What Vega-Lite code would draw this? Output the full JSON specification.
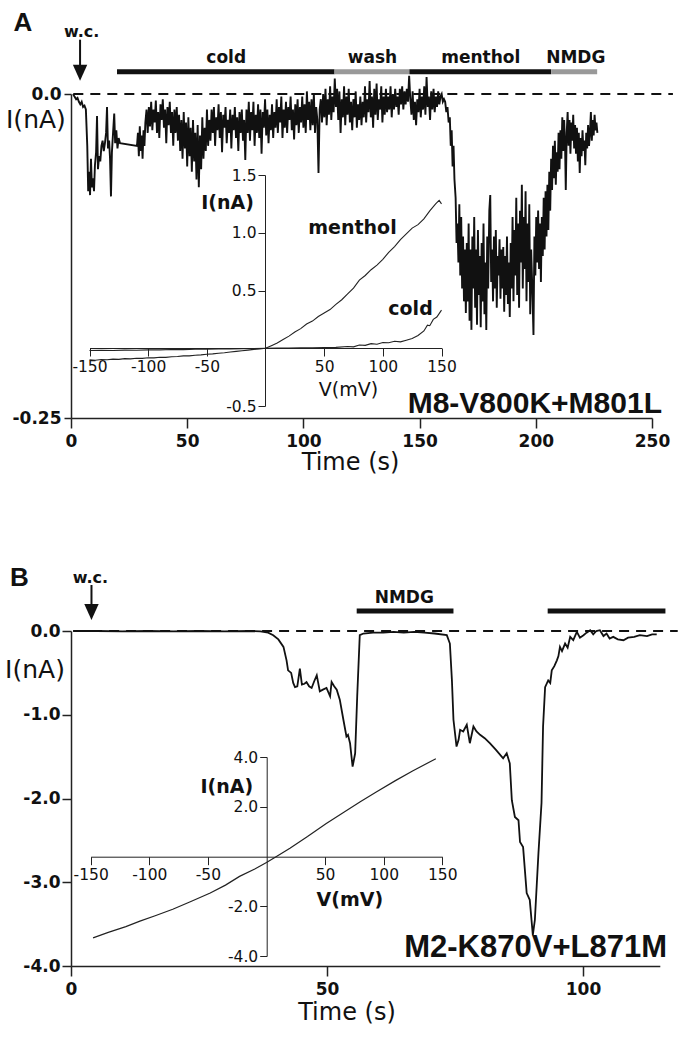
{
"$schema": "https://vega.github.io/schema/vega-lite/v6.json",
"width": 678, "height": 1039, "autosize": {"type": "none"}, "padding": 0,
"background": "white",
"config": {"view": {"stroke": null}, "axis": {"grid": false, "domainColor": "#222", "tickColor": "#222", "labelColor": "#111", "labelFont": "DejaVu Sans", "labelOverlap": false, "labelFlush": false}},
"datasets": {
"traceA": [
{"t":0.9,"i":0.000},{"t":1.5,"i":-0.002},{"t":2.2,"i":-0.004},{"t":2.8,"i":-0.003},{"t":3.4,"i":-0.006},{"t":4.0,"i":-0.008},{"t":4.6,"i":-0.006},{"t":5.2,"i":-0.010},{"t":5.8,"i":-0.009},{"t":6.4,"i":-0.012},
{"t":7.0,"i":-0.040},{"t":7.4,"i":-0.075},{"t":7.8,"i":-0.060},{"t":8.2,"i":-0.078},{"t":8.6,"i":-0.050},{"t":9.0,"i":-0.072},{"t":9.4,"i":-0.065},{"t":9.9,"i":-0.075},{"t":10.3,"i":-0.055},{"t":10.8,"i":-0.045},{"t":11.2,"i":-0.017},{"t":11.6,"i":-0.058},{"t":12.1,"i":-0.048},{"t":12.6,"i":-0.052},
{"t":13.1,"i":-0.040},{"t":13.6,"i":-0.036},{"t":14.1,"i":-0.044},{"t":14.6,"i":-0.038},{"t":15.1,"i":-0.030},{"t":15.5,"i":-0.010},{"t":15.9,"i":-0.042},{"t":16.4,"i":-0.036},{"t":16.8,"i":-0.050},{"t":17.2,"i":-0.079},{"t":17.6,"i":-0.045},{"t":18.1,"i":-0.030},
{"t":18.6,"i":-0.015},{"t":19.0,"i":-0.038},{"t":19.5,"i":-0.028},{"t":20.0,"i":-0.042},{"t":20.5,"i":-0.034},{"t":21.1,"i":-0.038},
{"t":28.4,"i":-0.040},
{"t":28.8,"i":-0.030},{"t":29.2,"i":-0.048},{"t":29.6,"i":-0.025},{"t":30.0,"i":-0.044},{"t":30.4,"i":-0.032},{"t":30.8,"i":-0.050},{"t":31.2,"i":-0.028},{"t":31.6,"i":-0.040},{"t":32.0,"i":-0.022},
{"t":32.5,"i":-0.012},{"t":33.0,"i":-0.030},{"t":33.5,"i":-0.010},{"t":34.0,"i":-0.025},{"t":34.5,"i":-0.006},{"t":35.0,"i":-0.028},{"t":35.5,"i":-0.012},{"t":36.0,"i":-0.022},{"t":36.5,"i":-0.005},{"t":37.0,"i":-0.030},{"t":37.5,"i":-0.014},{"t":38.0,"i":-0.034},{"t":38.5,"i":-0.008},{"t":39.0,"i":-0.020},{"t":39.5,"i":-0.004},{"t":40.0,"i":-0.026},{"t":40.5,"i":-0.012},{"t":41.0,"i":-0.038},{"t":41.5,"i":-0.010},{"t":42.0,"i":-0.024},{"t":42.5,"i":-0.006},{"t":43.0,"i":-0.030},{"t":43.5,"i":-0.014},{"t":44.0,"i":-0.040},{"t":44.5,"i":-0.012},
{"t":45.0,"i":-0.030},{"t":45.5,"i":-0.010},{"t":46.0,"i":-0.036},{"t":46.5,"i":-0.016},{"t":47.0,"i":-0.044},{"t":47.5,"i":-0.020},{"t":48.0,"i":-0.050},{"t":48.5,"i":-0.014},{"t":49.0,"i":-0.042},{"t":49.5,"i":-0.022},{"t":50.0,"i":-0.056},{"t":50.5,"i":-0.018},{"t":51.0,"i":-0.048},{"t":51.5,"i":-0.026},{"t":52.0,"i":-0.060},{"t":52.5,"i":-0.020},{"t":53.0,"i":-0.052},{"t":53.5,"i":-0.030},{"t":54.0,"i":-0.066},{"t":54.5,"i":-0.024},{"t":55.0,"i":-0.072},{"t":55.5,"i":-0.032},{"t":56.0,"i":-0.058},{"t":56.5,"i":-0.018},{"t":57.0,"i":-0.050},{"t":57.5,"i":-0.026},{"t":58.0,"i":-0.044},{"t":58.5,"i":-0.012},{"t":59.0,"i":-0.040},{"t":59.5,"i":-0.020},
{"t":60.0,"i":-0.036},{"t":60.5,"i":-0.012},{"t":61.0,"i":-0.030},{"t":61.5,"i":-0.010},{"t":62.0,"i":-0.040},{"t":62.5,"i":-0.018},{"t":63.0,"i":-0.028},{"t":63.5,"i":-0.008},{"t":64.0,"i":-0.034},{"t":64.5,"i":-0.014},{"t":65.0,"i":-0.045},{"t":65.5,"i":-0.016},{"t":66.0,"i":-0.026},{"t":66.5,"i":-0.010},{"t":67.0,"i":-0.038},{"t":67.5,"i":-0.020},{"t":68.0,"i":-0.030},{"t":68.5,"i":-0.012},{"t":69.0,"i":-0.042},{"t":69.5,"i":-0.016},{"t":70.0,"i":-0.028},{"t":70.5,"i":-0.010},{"t":71.0,"i":-0.034},{"t":71.5,"i":-0.018},{"t":72.0,"i":-0.044},{"t":72.5,"i":-0.014},{"t":73.0,"i":-0.030},{"t":73.5,"i":-0.012},{"t":74.0,"i":-0.036},{"t":74.5,"i":-0.020},
{"t":75.0,"i":-0.051},{"t":75.5,"i":-0.012},{"t":76.0,"i":-0.030},{"t":76.5,"i":-0.006},{"t":77.0,"i":-0.036},{"t":77.5,"i":-0.014},{"t":78.0,"i":-0.028},{"t":78.5,"i":-0.006},{"t":79.0,"i":-0.040},{"t":79.5,"i":-0.016},{"t":80.0,"i":-0.030},{"t":80.5,"i":-0.008},{"t":81.0,"i":-0.034},{"t":81.5,"i":-0.012},{"t":82.0,"i":-0.046},{"t":82.5,"i":-0.014},{"t":83.0,"i":-0.026},{"t":83.5,"i":-0.004},{"t":84.0,"i":-0.032},{"t":84.5,"i":-0.012},{"t":85.0,"i":-0.038},{"t":85.5,"i":-0.016},{"t":86.0,"i":-0.028},{"t":86.5,"i":-0.008},{"t":87.0,"i":-0.034},{"t":87.5,"i":-0.014},
{"t":88.0,"i":-0.026},{"t":88.5,"i":-0.004},{"t":89.0,"i":-0.030},{"t":89.5,"i":-0.010},{"t":90.0,"i":-0.022},{"t":90.5,"i":-0.002},{"t":91.0,"i":-0.034},{"t":91.5,"i":-0.012},{"t":92.0,"i":-0.026},{"t":92.5,"i":-0.006},{"t":93.0,"i":-0.030},{"t":93.5,"i":-0.010},{"t":94.0,"i":-0.020},{"t":94.5,"i":-0.002},{"t":95.0,"i":-0.028},{"t":95.5,"i":-0.012},{"t":96.0,"i":-0.035},{"t":96.5,"i":-0.008},{"t":97.0,"i":-0.024},{"t":97.5,"i":-0.004},{"t":98.0,"i":-0.030},{"t":98.5,"i":-0.010},
{"t":99.0,"i":-0.022},{"t":99.5,"i":-0.002},{"t":100.0,"i":-0.026},{"t":100.5,"i":-0.008},{"t":101.0,"i":-0.030},{"t":101.5,"i":0.002},{"t":102.0,"i":-0.020},{"t":102.5,"i":-0.006},{"t":103.0,"i":-0.028},{"t":103.5,"i":-0.004},{"t":104.0,"i":-0.024},{"t":104.5,"i":0.000},{"t":105.0,"i":-0.030},{"t":105.5,"i":-0.010},{"t":106.0,"i":-0.020},{"t":106.5,"i":-0.061},{"t":107.0,"i":-0.012},
{"t":107.5,"i":-0.004},{"t":108.0,"i":-0.022},{"t":108.5,"i":0.000},{"t":109.0,"i":-0.018},{"t":109.5,"i":0.004},{"t":110.0,"i":-0.024},{"t":110.5,"i":-0.004},{"t":111.0,"i":-0.016},{"t":111.5,"i":0.006},{"t":112.0,"i":-0.020},{"t":112.5,"i":-0.002},{"t":113.0,"i":-0.014},{"t":113.5,"i":0.012},{"t":114.0,"i":-0.010},
{"t":114.5,"i":0.004},{"t":115.0,"i":-0.020},{"t":115.5,"i":0.002},{"t":116.0,"i":-0.030},{"t":116.5,"i":-0.004},{"t":117.0,"i":-0.018},{"t":117.5,"i":0.006},{"t":118.0,"i":-0.024},{"t":118.5,"i":-0.002},{"t":119.0,"i":-0.016},{"t":119.5,"i":0.004},{"t":120.0,"i":-0.022},{"t":120.5,"i":-0.006},{"t":121.0,"i":-0.028},{"t":121.5,"i":-0.004},{"t":122.0,"i":-0.018},{"t":122.5,"i":0.002},{"t":123.0,"i":-0.026},{"t":123.5,"i":-0.008},{"t":124.0,"i":-0.020},{"t":124.5,"i":-0.002},{"t":125.0,"i":-0.024},{"t":125.5,"i":-0.006},{"t":126.0,"i":-0.018},{"t":126.5,"i":0.006},{"t":127.0,"i":-0.022},{"t":127.5,"i":-0.004},{"t":128.0,"i":-0.014},{"t":128.5,"i":0.010},{"t":129.0,"i":-0.018},{"t":129.5,"i":-0.002},{"t":130.0,"i":-0.026},{"t":130.5,"i":0.004},{"t":131.0,"i":-0.016},{"t":131.5,"i":0.008},{"t":132.0,"i":-0.020},{"t":132.5,"i":-0.004},{"t":133.0,"i":-0.012},{"t":133.5,"i":0.006},{"t":134.0,"i":-0.022},{"t":134.5,"i":-0.002},{"t":135.0,"i":-0.016},{"t":135.5,"i":0.004},{"t":136.0,"i":-0.014},{"t":136.5,"i":-0.002},{"t":137.0,"i":-0.012},{"t":137.5,"i":0.006},{"t":138.0,"i":-0.018},{"t":138.5,"i":0.000},{"t":139.0,"i":-0.012},{"t":139.5,"i":0.004},{"t":140.0,"i":-0.010},{"t":140.5,"i":-0.002},{"t":141.0,"i":-0.016},{"t":141.5,"i":0.004},{"t":142.0,"i":-0.008},{"t":142.5,"i":0.006},{"t":143.0,"i":-0.012},{"t":143.5,"i":0.002},{"t":144.0,"i":-0.008},{"t":144.5,"i":0.004},{"t":145.0,"i":-0.006},{"t":145.5,"i":0.014},
{"t":146.0,"i":-0.004},{"t":146.5,"i":-0.016},{"t":147.0,"i":0.002},{"t":147.5,"i":-0.020},{"t":148.0,"i":-0.006},{"t":148.5,"i":-0.024},{"t":149.0,"i":-0.004},{"t":149.5,"i":-0.014},{"t":150.0,"i":0.004},{"t":150.5,"i":-0.018},{"t":151.0,"i":-0.002},{"t":151.5,"i":-0.012},{"t":152.0,"i":0.006},{"t":152.5,"i":-0.016},{"t":153.0,"i":0.013},{"t":153.5,"i":-0.010},{"t":154.0,"i":-0.002},{"t":154.5,"i":-0.020},{"t":155.0,"i":0.002},{"t":155.5,"i":-0.012},{"t":156.0,"i":0.004},{"t":156.5,"i":-0.014},{"t":157.0,"i":-0.002},{"t":157.5,"i":-0.010},{"t":158.0,"i":0.002},{"t":158.5,"i":-0.008},{"t":159.0,"i":-0.002},{"t":159.5,"i":0.000},{"t":160.0,"i":-0.006},{"t":160.5,"i":-0.004},
{"t":161.0,"i":-0.006},{"t":161.5,"i":-0.014},{"t":162.0,"i":-0.010},{"t":162.5,"i":-0.022},{"t":163.0,"i":-0.018},{"t":163.4,"i":-0.040},{"t":163.8,"i":-0.028},{"t":164.2,"i":-0.056},{"t":164.6,"i":-0.040},{"t":165.0,"i":-0.066},{"t":165.5,"i":-0.080},{"t":165.9,"i":-0.115},{"t":166.3,"i":-0.100},{"t":166.7,"i":-0.130},
{"t":167.1,"i":-0.085},{"t":167.5,"i":-0.140},{"t":167.9,"i":-0.095},{"t":168.3,"i":-0.150},{"t":168.7,"i":-0.110},{"t":169.1,"i":-0.160},{"t":169.5,"i":-0.120},{"t":169.9,"i":-0.169},{"t":170.3,"i":-0.115},
{"t":170.7,"i":-0.160},{"t":171.1,"i":-0.100},{"t":171.5,"i":-0.175},{"t":171.9,"i":-0.120},{"t":172.3,"i":-0.182},{"t":172.7,"i":-0.110},{"t":173.1,"i":-0.150},{"t":173.5,"i":-0.095},{"t":173.9,"i":-0.165},{"t":174.3,"i":-0.120},{"t":174.7,"i":-0.178},{"t":175.1,"i":-0.105},{"t":175.5,"i":-0.155},{"t":175.9,"i":-0.125},{"t":176.3,"i":-0.180},{"t":176.7,"i":-0.115},{"t":177.1,"i":-0.160},{"t":177.5,"i":-0.100},{"t":177.9,"i":-0.170},{"t":178.3,"i":-0.130},{"t":178.7,"i":-0.182},{"t":179.1,"i":-0.110},{"t":179.5,"i":-0.150},{"t":180.0,"i":-0.090},{"t":180.4,"i":-0.078},{"t":180.8,"i":-0.145},
{"t":181.2,"i":-0.120},{"t":181.6,"i":-0.160},{"t":182.0,"i":-0.110},{"t":182.4,"i":-0.150},{"t":182.8,"i":-0.105},{"t":183.2,"i":-0.165},{"t":183.6,"i":-0.125},{"t":184.0,"i":-0.140},{"t":184.4,"i":-0.112},{"t":184.8,"i":-0.158},{"t":185.2,"i":-0.120},{"t":185.6,"i":-0.150},{"t":186.0,"i":-0.118},{"t":186.4,"i":-0.168},{"t":186.8,"i":-0.125},{"t":187.2,"i":-0.155},{"t":187.6,"i":-0.110},{"t":188.0,"i":-0.162},{"t":188.4,"i":-0.130},{"t":188.8,"i":-0.172},
{"t":189.2,"i":-0.115},{"t":189.6,"i":-0.150},{"t":190.0,"i":-0.095},{"t":190.4,"i":-0.160},{"t":190.8,"i":-0.105},{"t":191.2,"i":-0.140},{"t":191.6,"i":-0.080},{"t":192.0,"i":-0.155},{"t":192.4,"i":-0.100},{"t":192.8,"i":-0.165},{"t":193.2,"i":-0.090},{"t":193.6,"i":-0.130},{"t":194.0,"i":-0.070},{"t":194.4,"i":-0.150},{"t":194.8,"i":-0.095},{"t":195.2,"i":-0.135},{"t":195.6,"i":-0.075},{"t":196.0,"i":-0.160},{"t":196.4,"i":-0.100},{"t":196.8,"i":-0.145},{"t":197.2,"i":-0.085},{"t":197.6,"i":-0.170},
{"t":198.0,"i":-0.120},{"t":198.5,"i":-0.150},{"t":199.0,"i":-0.186},{"t":199.4,"i":-0.110},{"t":199.8,"i":-0.140},{"t":200.2,"i":-0.095},{"t":200.6,"i":-0.130},{"t":201.0,"i":-0.090},{"t":201.4,"i":-0.135},{"t":201.8,"i":-0.100},{"t":202.2,"i":-0.145},{"t":202.6,"i":-0.095},{"t":203.0,"i":-0.125},{"t":203.4,"i":-0.080},{"t":203.8,"i":-0.120},{"t":204.2,"i":-0.075},{"t":204.6,"i":-0.110},{"t":205.0,"i":-0.070},{"t":205.4,"i":-0.105},{"t":205.8,"i":-0.060},{"t":206.2,"i":-0.090},
{"t":206.6,"i":-0.050},{"t":207.0,"i":-0.074},{"t":207.4,"i":-0.040},{"t":207.8,"i":-0.065},{"t":208.2,"i":-0.036},{"t":208.6,"i":-0.070},{"t":209.0,"i":-0.045},{"t":209.4,"i":-0.060},{"t":209.8,"i":-0.030},{"t":210.2,"i":-0.058},{"t":210.6,"i":-0.028},
{"t":211.0,"i":-0.050},{"t":211.4,"i":-0.018},{"t":211.8,"i":-0.044},{"t":212.2,"i":-0.020},{"t":212.6,"i":-0.040},{"t":212.9,"i":-0.074},{"t":213.3,"i":-0.030},{"t":213.7,"i":-0.014},{"t":214.1,"i":-0.040},{"t":214.5,"i":-0.020},{"t":214.9,"i":-0.046},{"t":215.3,"i":-0.022},{"t":215.7,"i":-0.036},{"t":216.1,"i":-0.016},{"t":216.5,"i":-0.042},{"t":216.9,"i":-0.024},
{"t":217.3,"i":-0.046},{"t":217.7,"i":-0.026},{"t":218.1,"i":-0.052},{"t":218.5,"i":-0.030},{"t":218.9,"i":-0.061},{"t":219.3,"i":-0.034},{"t":219.7,"i":-0.048},{"t":220.1,"i":-0.028},{"t":220.5,"i":-0.044},{"t":220.9,"i":-0.036},{"t":221.3,"i":-0.055},{"t":221.7,"i":-0.030},{"t":222.1,"i":-0.042},{"t":222.5,"i":-0.024},{"t":222.9,"i":-0.040},
{"t":223.3,"i":-0.030},{"t":223.7,"i":-0.014},{"t":224.1,"i":-0.036},{"t":224.5,"i":-0.020},{"t":224.9,"i":-0.032},{"t":225.3,"i":-0.016},{"t":225.7,"i":-0.028},{"t":226.1,"i":-0.022},{"t":226.5,"i":-0.030}
],
"ivA": [
{"s":"menthol","v":-150,"i":-0.100},{"s":"menthol","v":-145,"i":-0.104},{"s":"menthol","v":-140,"i":-0.097},{"s":"menthol","v":-135,"i":-0.099},{"s":"menthol","v":-130,"i":-0.094},{"s":"menthol","v":-125,"i":-0.096},{"s":"menthol","v":-120,"i":-0.090},{"s":"menthol","v":-115,"i":-0.092},{"s":"menthol","v":-110,"i":-0.086},{"s":"menthol","v":-105,"i":-0.088},{"s":"menthol","v":-100,"i":-0.082},{"s":"menthol","v":-95,"i":-0.083},{"s":"menthol","v":-90,"i":-0.078},{"s":"menthol","v":-85,"i":-0.079},{"s":"menthol","v":-80,"i":-0.073},{"s":"menthol","v":-75,"i":-0.072},{"s":"menthol","v":-70,"i":-0.066},{"s":"menthol","v":-65,"i":-0.066},{"s":"menthol","v":-60,"i":-0.060},{"s":"menthol","v":-55,"i":-0.057},{"s":"menthol","v":-50,"i":-0.052},{"s":"menthol","v":-45,"i":-0.049},{"s":"menthol","v":-40,"i":-0.043},{"s":"menthol","v":-35,"i":-0.039},{"s":"menthol","v":-30,"i":-0.033},{"s":"menthol","v":-25,"i":-0.027},{"s":"menthol","v":-20,"i":-0.022},{"s":"menthol","v":-15,"i":-0.016},{"s":"menthol","v":-10,"i":-0.010},{"s":"menthol","v":-5,"i":-0.005},{"s":"menthol","v":0,"i":0.000},{"s":"menthol","v":5,"i":0.022},{"s":"menthol","v":10,"i":0.045},{"s":"menthol","v":15,"i":0.075},{"s":"menthol","v":20,"i":0.105},{"s":"menthol","v":25,"i":0.140},{"s":"menthol","v":30,"i":0.170},{"s":"menthol","v":35,"i":0.210},{"s":"menthol","v":40,"i":0.235},{"s":"menthol","v":45,"i":0.275},{"s":"menthol","v":50,"i":0.305},{"s":"menthol","v":55,"i":0.335},{"s":"menthol","v":60,"i":0.380},{"s":"menthol","v":65,"i":0.420},{"s":"menthol","v":70,"i":0.470},{"s":"menthol","v":75,"i":0.520},{"s":"menthol","v":80,"i":0.590},{"s":"menthol","v":85,"i":0.630},{"s":"menthol","v":90,"i":0.680},{"s":"menthol","v":95,"i":0.720},{"s":"menthol","v":100,"i":0.770},{"s":"menthol","v":105,"i":0.830},{"s":"menthol","v":110,"i":0.880},{"s":"menthol","v":115,"i":0.940},{"s":"menthol","v":120,"i":0.990},{"s":"menthol","v":125,"i":1.040},{"s":"menthol","v":130,"i":1.070},{"s":"menthol","v":135,"i":1.120},{"s":"menthol","v":140,"i":1.190},{"s":"menthol","v":145,"i":1.250},{"s":"menthol","v":148,"i":1.280},{"s":"menthol","v":150,"i":1.250},
{"s":"cold","v":-150,"i":-0.020},{"s":"cold","v":-140,"i":-0.018},{"s":"cold","v":-130,"i":-0.020},{"s":"cold","v":-120,"i":-0.016},{"s":"cold","v":-110,"i":-0.017},{"s":"cold","v":-100,"i":-0.014},{"s":"cold","v":-90,"i":-0.014},{"s":"cold","v":-80,"i":-0.011},{"s":"cold","v":-70,"i":-0.012},{"s":"cold","v":-60,"i":-0.009},{"s":"cold","v":-50,"i":-0.008},{"s":"cold","v":-40,"i":-0.007},{"s":"cold","v":-30,"i":-0.005},{"s":"cold","v":-20,"i":-0.004},{"s":"cold","v":-10,"i":-0.002},{"s":"cold","v":0,"i":0.000},{"s":"cold","v":10,"i":0.002},{"s":"cold","v":20,"i":0.001},{"s":"cold","v":30,"i":0.004},{"s":"cold","v":40,"i":0.003},{"s":"cold","v":50,"i":0.006},{"s":"cold","v":60,"i":0.008},{"s":"cold","v":70,"i":0.015},{"s":"cold","v":75,"i":0.012},{"s":"cold","v":80,"i":0.028},{"s":"cold","v":85,"i":0.025},{"s":"cold","v":90,"i":0.040},{"s":"cold","v":95,"i":0.035},{"s":"cold","v":100,"i":0.050},{"s":"cold","v":105,"i":0.048},{"s":"cold","v":110,"i":0.060},{"s":"cold","v":115,"i":0.055},{"s":"cold","v":120,"i":0.070},{"s":"cold","v":125,"i":0.085},{"s":"cold","v":130,"i":0.110},{"s":"cold","v":135,"i":0.150},{"s":"cold","v":138,"i":0.200},{"s":"cold","v":140,"i":0.195},{"s":"cold","v":143,"i":0.250},{"s":"cold","v":146,"i":0.270},{"s":"cold","v":148,"i":0.300},{"s":"cold","v":150,"i":0.330}
],
"traceB": [
{"t":0.4,"i":0},{"t":5,"i":0},{"t":10,"i":-0.005},{"t":15,"i":0},{"t":20,"i":-0.005},{"t":25,"i":0},{"t":30,"i":-0.005},{"t":35,"i":0},{"t":37,"i":-0.005},{"t":38.5,"i":-0.02},{"t":39.5,"i":-0.05},{"t":40.5,"i":-0.1},{"t":41.5,"i":-0.19},{"t":42.1,"i":-0.35},{"t":42.4,"i":-0.47},{"t":43.0,"i":-0.5},{"t":43.4,"i":-0.62},{"t":43.75,"i":-0.67},{"t":44.2,"i":-0.66},{"t":44.7,"i":-0.45},{"t":45.1,"i":-0.64},{"t":45.6,"i":-0.63},{"t":46.0,"i":-0.61},{"t":46.5,"i":-0.66},{"t":47.0,"i":-0.68},{"t":47.5,"i":-0.60},{"t":48.0,"i":-0.53},{"t":48.6,"i":-0.72},{"t":49.2,"i":-0.70},{"t":49.9,"i":-0.68},{"t":50.6,"i":-0.78},{"t":50.9,"i":-0.61},{"t":51.4,"i":-0.66},{"t":51.9,"i":-0.70},{"t":52.5,"i":-0.82},{"t":53.2,"i":-1.06},{"t":53.8,"i":-1.26},{"t":54.1,"i":-1.24},{"t":54.5,"i":-1.34},{"t":55.0,"i":-1.62},{"t":55.5,"i":-1.46},{"t":55.9,"i":-0.78},{"t":56.4,"i":-0.05},{"t":57.1,"i":-0.03},{"t":59,"i":-0.02},{"t":61,"i":-0.02},{"t":63,"i":-0.01},{"t":65,"i":-0.02},{"t":67,"i":-0.01},{"t":69,"i":-0.02},{"t":71,"i":-0.03},{"t":73.4,"i":-0.05},{"t":74.0,"i":-0.15},{"t":74.4,"i":-0.59},{"t":74.7,"i":-1.06},{"t":75.3,"i":-1.38},{"t":75.7,"i":-1.30},{"t":76.0,"i":-1.18},{"t":76.6,"i":-1.2},{"t":77.3,"i":-1.12},{"t":77.9,"i":-1.34},{"t":78.6,"i":-1.14},{"t":79.2,"i":-1.2},{"t":79.9,"i":-1.24},{"t":80.8,"i":-1.28},{"t":81.8,"i":-1.34},{"t":83,"i":-1.42},{"t":84.4,"i":-1.52},{"t":85.1,"i":-1.46},{"t":85.7,"i":-1.58},{"t":86.1,"i":-2.02},{"t":86.7,"i":-2.22},{"t":87.4,"i":-2.26},{"t":87.7,"i":-2.52},{"t":88.3,"i":-2.58},{"t":89.0,"i":-3.13},{"t":89.6,"i":-3.21},{"t":90.2,"i":-3.63},{"t":90.6,"i":-3.45},{"t":91.3,"i":-2.65},{"t":91.9,"i":-2.05},{"t":92.2,"i":-1.14},{"t":92.6,"i":-0.67},{"t":93.2,"i":-0.59},{"t":93.6,"i":-0.62},{"t":93.9,"i":-0.47},{"t":94.4,"i":-0.42},{"t":94.9,"i":-0.35},{"t":95.2,"i":-0.3},{"t":95.5,"i":-0.19},{"t":95.9,"i":-0.24},{"t":96.5,"i":-0.15},{"t":97.0,"i":-0.2},{"t":97.5,"i":-0.07},{"t":98.1,"i":-0.11},{"t":98.8,"i":-0.01},{"t":99.4,"i":-0.08},{"t":100.1,"i":-0.05},{"t":100.7,"i":-0.02},{"t":101.4,"i":0.01},{"t":102.0,"i":-0.04},{"t":102.6,"i":0.0},{"t":103.3,"i":0.01},{"t":104.0,"i":-0.06},{"t":104.6,"i":-0.03},{"t":105.2,"i":-0.09},{"t":105.9,"i":-0.07},{"t":106.8,"i":-0.1},{"t":107.9,"i":-0.11},{"t":108.8,"i":-0.08},{"t":110,"i":-0.07},{"t":111.1,"i":-0.05},{"t":112.5,"i":-0.06},{"t":113.5,"i":-0.04},{"t":114.4,"i":-0.04}
],
"ivB": [
{"v":-148,"i":-3.27},{"v":-135,"i":-3.05},{"v":-120,"i":-2.82},{"v":-108,"i":-2.6},{"v":-95,"i":-2.38},{"v":-80,"i":-2.12},{"v":-65,"i":-1.82},{"v":-48,"i":-1.47},{"v":-35,"i":-1.15},{"v":-23,"i":-0.8},{"v":-10,"i":-0.5},{"v":0,"i":-0.24},{"v":8.5,"i":0},{"v":20,"i":0.33},{"v":35,"i":0.8},{"v":51,"i":1.33},{"v":65,"i":1.75},{"v":80,"i":2.2},{"v":94,"i":2.6},{"v":110,"i":3.05},{"v":125,"i":3.45},{"v":144.5,"i":3.93}
]
},
"layer": [
 {"data": {"values": [{"t": 1, "t2": 259, "i": 0}]},
  "mark": {"type": "rule", "strokeDash": [10, 7], "strokeWidth": 2, "color": "#111"},
  "encoding": {"x": {"field": "t", "type": "quantitative", "scale": {"domain": [0, 250], "range": [71, 652], "nice": false, "zero": false}, "axis": null},
   "x2": {"field": "t2"},
   "y": {"field": "i", "type": "quantitative", "scale": {"domain": [-0.25, 0], "range": [418, 94], "nice": false, "zero": false}, "axis": null}}},
 {"data": {"name": "traceA"},
  "mark": {"type": "line", "color": "#111", "strokeWidth": 1.9},
  "encoding": {
   "x": {"field": "t", "type": "quantitative", "scale": {"domain": [0, 250], "range": [71, 652], "nice": false, "zero": false},
    "axis": {"orient": "bottom", "offset": -621, "values": [0, 50, 100, 150, 200, 250], "format": "d", "title": null, "tickSize": 10, "tickWidth": 1.5, "domainWidth": 1.5, "labelFontSize": 17, "labelFontWeight": "bold", "labelPadding": 5}},
   "y": {"field": "i", "type": "quantitative", "scale": {"domain": [-0.25, 0], "range": [418, 94], "nice": false, "zero": false},
    "axis": {"orient": "left", "offset": -71, "values": [0, -0.25], "labelExpr": "datum.value == 0 ? '0.0' : '-0.25'", "title": null, "tickSize": 7, "tickWidth": 1.5, "domainWidth": 1.5, "labelFontSize": 17, "labelFontWeight": "bold", "labelPadding": 3}}}},
 {"data": {"values": [{"t": 19.8, "t2": 113.4, "i": 0.0172, "kind": "drug"}, {"t": 113.4, "t2": 145.6, "i": 0.0172, "kind": "wash"}, {"t": 145.6, "t2": 206.6, "i": 0.0172, "kind": "drug"}, {"t": 206.6, "t2": 226.4, "i": 0.0172, "kind": "wash"}]},
  "mark": {"type": "rule", "strokeWidth": 5},
  "encoding": {"x": {"field": "t", "type": "quantitative", "scale": {"domain": [0, 250], "range": [71, 652], "nice": false, "zero": false}, "axis": null},
   "x2": {"field": "t2"},
   "y": {"field": "i", "type": "quantitative", "scale": {"domain": [-0.25, 0], "range": [418, 94], "nice": false, "zero": false}, "axis": null},
   "color": {"field": "kind", "type": "nominal", "scale": {"domain": ["drug", "wash"], "range": ["#111111", "#999999"]}, "legend": null}}},
 {"data": {"values": [{"t": 3.9, "i": 0.0419, "i2": 0.0219}]},
  "mark": {"type": "rule", "strokeWidth": 2, "color": "#111"},
  "encoding": {"x": {"field": "t", "type": "quantitative", "scale": {"domain": [0, 250], "range": [71, 652], "nice": false, "zero": false}, "axis": null},
   "y": {"field": "i", "type": "quantitative", "scale": {"domain": [-0.25, 0], "range": [418, 94], "nice": false, "zero": false}, "axis": null},
   "y2": {"field": "i2"}}},
 {"data": {"values": [{"t": 3.9, "i": 0.0164}]},
  "mark": {"type": "point", "shape": "M-0.9,-1L0.9,-1L0,1Z", "filled": true, "size": 256, "color": "#111", "opacity": 1, "strokeWidth": 0},
  "encoding": {"x": {"field": "t", "type": "quantitative", "scale": {"domain": [0, 250], "range": [71, 652], "nice": false, "zero": false}, "axis": null},
   "y": {"field": "i", "type": "quantitative", "scale": {"domain": [-0.25, 0], "range": [418, 94], "nice": false, "zero": false}, "axis": null}}},
 {"data": {"values": [{"t": 66.8, "i": 0.0276, "label": "cold"}, {"t": 129.7, "i": 0.0276, "label": "wash"}, {"t": 176.3, "i": 0.0276, "label": "menthol"}, {"t": 217.2, "i": 0.0276, "label": "NMDG"}]},
  "mark": {"type": "text", "font": "DejaVu Sans", "fontSize": 17, "fontWeight": "bold", "color": "#111", "align": "center", "baseline": "middle"},
  "encoding": {"x": {"field": "t", "type": "quantitative", "scale": {"domain": [0, 250], "range": [71, 652], "nice": false, "zero": false}, "axis": null},
   "y": {"field": "i", "type": "quantitative", "scale": {"domain": [-0.25, 0], "range": [418, 94], "nice": false, "zero": false}, "axis": null},
   "text": {"field": "label"}}},
 {"data": {"values": [{"t": 4.6, "i": 0.0477, "label": "w.c."}]},
  "mark": {"type": "text", "font": "DejaVu Sans", "fontSize": 16, "fontWeight": "bold", "color": "#111", "align": "center", "baseline": "middle"},
  "encoding": {"x": {"field": "t", "type": "quantitative", "scale": {"domain": [0, 250], "range": [71, 652], "nice": false, "zero": false}, "axis": null},
   "y": {"field": "i", "type": "quantitative", "scale": {"domain": [-0.25, 0], "range": [418, 94], "nice": false, "zero": false}, "axis": null},
   "text": {"field": "label"}}},
 {"data": {"values": [{"t": -20.7, "i": 0.0547, "label": "A"}]},
  "mark": {"type": "text", "font": "Liberation Sans", "fontSize": 26, "fontWeight": "bold", "color": "#111", "align": "center", "baseline": "middle"},
  "encoding": {"x": {"field": "t", "type": "quantitative", "scale": {"domain": [0, 250], "range": [71, 652], "nice": false, "zero": false}, "axis": null},
   "y": {"field": "i", "type": "quantitative", "scale": {"domain": [-0.25, 0], "range": [418, 94], "nice": false, "zero": false}, "axis": null},
   "text": {"field": "label"}}},
 {"data": {"values": [{"t": -15.1, "i": -0.0199, "label": "I(nA)"}]},
  "mark": {"type": "text", "font": "DejaVu Sans", "fontSize": 25, "color": "#111", "align": "center", "baseline": "middle"},
  "encoding": {"x": {"field": "t", "type": "quantitative", "scale": {"domain": [0, 250], "range": [71, 652], "nice": false, "zero": false}, "axis": null},
   "y": {"field": "i", "type": "quantitative", "scale": {"domain": [-0.25, 0], "range": [418, 94], "nice": false, "zero": false}, "axis": null},
   "text": {"field": "label"}}},
 {"data": {"values": [{"t": 120.3, "i": -0.2847, "label": "Time (s)"}]},
  "mark": {"type": "text", "font": "DejaVu Sans", "fontSize": 24, "color": "#111", "align": "center", "baseline": "middle"},
  "encoding": {"x": {"field": "t", "type": "quantitative", "scale": {"domain": [0, 250], "range": [71, 652], "nice": false, "zero": false}, "axis": null},
   "y": {"field": "i", "type": "quantitative", "scale": {"domain": [-0.25, 0], "range": [418, 94], "nice": false, "zero": false}, "axis": null},
   "text": {"field": "label"}}},
 {"data": {"values": [{"t": 254.3, "i": -0.2461, "label": "M8-V800K+M801L"}]},
  "mark": {"type": "text", "font": "Liberation Sans", "fontSize": 30, "fontWeight": "bold", "color": "#111", "align": "right", "baseline": "alphabetic"},
  "encoding": {"x": {"field": "t", "type": "quantitative", "scale": {"domain": [0, 250], "range": [71, 652], "nice": false, "zero": false}, "axis": null},
   "y": {"field": "i", "type": "quantitative", "scale": {"domain": [-0.25, 0], "range": [418, 94], "nice": false, "zero": false}, "axis": null},
   "text": {"field": "label"}}},
 {"data": {"name": "ivA"},
  "mark": {"type": "line", "color": "#222", "strokeWidth": 1.1},
  "encoding": {
   "x": {"field": "v", "type": "quantitative", "scale": {"domain": [-150, 150], "range": [89.5, 441.5], "nice": false, "zero": false},
    "axis": {"orient": "bottom", "offset": -691, "values": [-150, -100, -50, 50, 100, 150], "labelExpr": "datum.value < 0 ? '-' + format(-datum.value, 'd') : format(datum.value, 'd')", "title": null, "tickSize": 8, "tickWidth": 1, "domainWidth": 1, "labelFontSize": 15.5, "labelPadding": 3}},
   "y": {"field": "i", "type": "quantitative", "scale": {"domain": [-0.5, 1.5], "range": [406, 175], "nice": false, "zero": false},
    "axis": {"orient": "left", "offset": -265, "values": [1.5, 1, 0.5, -0.5], "labelExpr": "datum.value < 0 ? '-' + format(-datum.value, '.1f') : format(datum.value, '.1f')", "title": null, "tickSize": 7, "tickWidth": 1, "domainWidth": 1, "labelFontSize": 15.5, "labelPadding": 2}},
   "detail": {"field": "s", "type": "nominal"}}},
 {"data": {"values": [{"v": -32.4, "i": 1.257, "label": "I(nA)"}, {"v": 74.1, "i": 1.041, "label": "menthol"}, {"v": 123.6, "i": 0.34, "label": "cold"}]},
  "mark": {"type": "text", "font": "DejaVu Sans", "fontSize": 19, "fontWeight": "bold", "color": "#111", "align": "center", "baseline": "middle"},
  "encoding": {"x": {"field": "v", "type": "quantitative", "scale": {"domain": [-150, 150], "range": [89.5, 441.5], "nice": false, "zero": false}, "axis": null},
   "y": {"field": "i", "type": "quantitative", "scale": {"domain": [-0.5, 1.5], "range": [406, 175], "nice": false, "zero": false}, "axis": null},
   "text": {"field": "label"}}},
 {"data": {"values": [{"v": 70.7, "i": -0.361, "label": "V(mV)"}]},
  "mark": {"type": "text", "font": "DejaVu Sans", "fontSize": 19, "color": "#111", "align": "center", "baseline": "middle"},
  "encoding": {"x": {"field": "v", "type": "quantitative", "scale": {"domain": [-150, 150], "range": [89.5, 441.5], "nice": false, "zero": false}, "axis": null},
   "y": {"field": "i", "type": "quantitative", "scale": {"domain": [-0.5, 1.5], "range": [406, 175], "nice": false, "zero": false}, "axis": null},
   "text": {"field": "label"}}},
 {"data": {"values": [{"t": 0.8, "t2": 118.5, "i": 0}]},
  "mark": {"type": "rule", "strokeDash": [10, 7], "strokeWidth": 2, "color": "#111"},
  "encoding": {"x": {"field": "t", "type": "quantitative", "scale": {"domain": [0, 115], "range": [71, 659.8], "nice": false, "zero": false}, "axis": null},
   "x2": {"field": "t2"},
   "y": {"field": "i", "type": "quantitative", "scale": {"domain": [-4, 0], "range": [966, 631], "nice": false, "zero": false}, "axis": null}}},
 {"data": {"name": "traceB"},
  "mark": {"type": "line", "color": "#111", "strokeWidth": 1.8},
  "encoding": {
   "x": {"field": "t", "type": "quantitative", "scale": {"domain": [0, 115], "range": [71, 659.8], "nice": false, "zero": false},
    "axis": {"orient": "bottom", "offset": -73, "values": [0, 50, 100], "format": "d", "title": null, "tickSize": 10, "tickWidth": 1.5, "domainWidth": 1.5, "labelFontSize": 17, "labelFontWeight": "bold", "labelPadding": 5}},
   "y": {"field": "i", "type": "quantitative", "scale": {"domain": [-4, 0], "range": [966, 631], "nice": false, "zero": false},
    "axis": {"orient": "left", "offset": -71, "values": [0, -1, -2, -3, -4], "labelExpr": "datum.value < 0 ? '-' + format(-datum.value, '.1f') : format(datum.value, '.1f')", "title": null, "tickSize": 9, "tickWidth": 1.5, "domainWidth": 1.5, "labelFontSize": 17, "labelFontWeight": "bold", "labelPadding": 2}}}},
 {"data": {"values": [{"t": 55.8, "t2": 74.7, "i": 0.239, "kind": "drug"}, {"t": 93.1, "t2": 116.1, "i": 0.239, "kind": "drug"}]},
  "mark": {"type": "rule", "strokeWidth": 5},
  "encoding": {"x": {"field": "t", "type": "quantitative", "scale": {"domain": [0, 115], "range": [71, 659.8], "nice": false, "zero": false}, "axis": null},
   "x2": {"field": "t2"},
   "y": {"field": "i", "type": "quantitative", "scale": {"domain": [-4, 0], "range": [966, 631], "nice": false, "zero": false}, "axis": null},
   "color": {"field": "kind", "type": "nominal", "scale": {"domain": ["drug", "wash"], "range": ["#111111", "#999999"]}, "legend": null}}},
 {"data": {"values": [{"t": 4.0, "i": 0.549, "i2": 0.31}]},
  "mark": {"type": "rule", "strokeWidth": 2, "color": "#111"},
  "encoding": {"x": {"field": "t", "type": "quantitative", "scale": {"domain": [0, 115], "range": [71, 659.8], "nice": false, "zero": false}, "axis": null},
   "y": {"field": "i", "type": "quantitative", "scale": {"domain": [-4, 0], "range": [966, 631], "nice": false, "zero": false}, "axis": null},
   "y2": {"field": "i2"}}},
 {"data": {"values": [{"t": 4.0, "i": 0.227}]},
  "mark": {"type": "point", "shape": "M-0.9,-1L0.9,-1L0,1Z", "filled": true, "size": 256, "color": "#111", "opacity": 1, "strokeWidth": 0},
  "encoding": {"x": {"field": "t", "type": "quantitative", "scale": {"domain": [0, 115], "range": [71, 659.8], "nice": false, "zero": false}, "axis": null},
   "y": {"field": "i", "type": "quantitative", "scale": {"domain": [-4, 0], "range": [966, 631], "nice": false, "zero": false}, "axis": null}}},
 {"data": {"values": [{"t": 65.1, "i": 0.394, "label": "NMDG"}]},
  "mark": {"type": "text", "font": "DejaVu Sans", "fontSize": 17, "fontWeight": "bold", "color": "#111", "align": "center", "baseline": "middle"},
  "encoding": {"x": {"field": "t", "type": "quantitative", "scale": {"domain": [0, 115], "range": [71, 659.8], "nice": false, "zero": false}, "axis": null},
   "y": {"field": "i", "type": "quantitative", "scale": {"domain": [-4, 0], "range": [966, 631], "nice": false, "zero": false}, "axis": null},
   "text": {"field": "label"}}},
 {"data": {"values": [{"t": 3.8, "i": 0.627, "label": "w.c."}]},
  "mark": {"type": "text", "font": "DejaVu Sans", "fontSize": 16, "fontWeight": "bold", "color": "#111", "align": "center", "baseline": "middle"},
  "encoding": {"x": {"field": "t", "type": "quantitative", "scale": {"domain": [0, 115], "range": [71, 659.8], "nice": false, "zero": false}, "axis": null},
   "y": {"field": "i", "type": "quantitative", "scale": {"domain": [-4, 0], "range": [966, 631], "nice": false, "zero": false}, "axis": null},
   "text": {"field": "label"}}},
 {"data": {"values": [{"t": -10.06, "i": 0.633, "label": "B"}]},
  "mark": {"type": "text", "font": "Liberation Sans", "fontSize": 26, "fontWeight": "bold", "color": "#111", "align": "center", "baseline": "middle"},
  "encoding": {"x": {"field": "t", "type": "quantitative", "scale": {"domain": [0, 115], "range": [71, 659.8], "nice": false, "zero": false}, "axis": null},
   "y": {"field": "i", "type": "quantitative", "scale": {"domain": [-4, 0], "range": [966, 631], "nice": false, "zero": false}, "axis": null},
   "text": {"field": "label"}}},
 {"data": {"values": [{"t": -7.03, "i": -0.466, "label": "I(nA)"}]},
  "mark": {"type": "text", "font": "DejaVu Sans", "fontSize": 25, "color": "#111", "align": "center", "baseline": "middle"},
  "encoding": {"x": {"field": "t", "type": "quantitative", "scale": {"domain": [0, 115], "range": [71, 659.8], "nice": false, "zero": false}, "axis": null},
   "y": {"field": "i", "type": "quantitative", "scale": {"domain": [-4, 0], "range": [966, 631], "nice": false, "zero": false}, "axis": null},
   "text": {"field": "label"}}},
 {"data": {"values": [{"t": 53.9, "i": -4.561, "label": "Time (s)"}]},
  "mark": {"type": "text", "font": "DejaVu Sans", "fontSize": 24, "color": "#111", "align": "center", "baseline": "middle"},
  "encoding": {"x": {"field": "t", "type": "quantitative", "scale": {"domain": [0, 115], "range": [71, 659.8], "nice": false, "zero": false}, "axis": null},
   "y": {"field": "i", "type": "quantitative", "scale": {"domain": [-4, 0], "range": [966, 631], "nice": false, "zero": false}, "axis": null},
   "text": {"field": "label"}}},
 {"data": {"values": [{"t": 116.4, "i": -3.89, "label": "M2-K870V+L871M"}]},
  "mark": {"type": "text", "font": "Liberation Sans", "fontSize": 31, "fontWeight": "bold", "color": "#111", "align": "right", "baseline": "alphabetic"},
  "encoding": {"x": {"field": "t", "type": "quantitative", "scale": {"domain": [0, 115], "range": [71, 659.8], "nice": false, "zero": false}, "axis": null},
   "y": {"field": "i", "type": "quantitative", "scale": {"domain": [-4, 0], "range": [966, 631], "nice": false, "zero": false}, "axis": null},
   "text": {"field": "label"}}},
 {"data": {"name": "ivB"},
  "mark": {"type": "line", "color": "#222", "strokeWidth": 1.2},
  "encoding": {
   "x": {"field": "v", "type": "quantitative", "scale": {"domain": [-150, 150], "range": [90.7, 442.3], "nice": false, "zero": false},
    "axis": {"orient": "bottom", "offset": -182.3, "values": [-150, -100, -50, 50, 100, 150], "labelExpr": "datum.value < 0 ? '-' + format(-datum.value, 'd') : format(datum.value, 'd')", "title": null, "tickSize": 8, "tickWidth": 1, "domainWidth": 1, "labelFontSize": 15.5, "labelPadding": 3}},
   "y": {"field": "i", "type": "quantitative", "scale": {"domain": [-4, 4], "range": [956, 757], "nice": false, "zero": false},
    "axis": {"orient": "left", "offset": -266.7, "values": [4, 2, -2, -4], "labelExpr": "datum.value < 0 ? '-' + format(-datum.value, '.1f') : format(datum.value, '.1f')", "title": null, "tickSize": 7, "tickWidth": 1, "domainWidth": 1, "labelFontSize": 15.5, "labelPadding": 2}}}},
 {"data": {"values": [{"v": -33.9, "i": 2.8, "label": "I(nA)"}, {"v": 71.1, "i": -1.74, "label": "V(mV)"}]},
  "mark": {"type": "text", "font": "DejaVu Sans", "fontSize": 19, "fontWeight": "bold", "color": "#111", "align": "center", "baseline": "middle"},
  "encoding": {"x": {"field": "v", "type": "quantitative", "scale": {"domain": [-150, 150], "range": [90.7, 442.3], "nice": false, "zero": false}, "axis": null},
   "y": {"field": "i", "type": "quantitative", "scale": {"domain": [-4, 4], "range": [956, 757], "nice": false, "zero": false}, "axis": null},
   "text": {"field": "label"}}}
],
"resolve": {"scale": {"x": "independent", "y": "independent"}, "axis": {"x": "independent", "y": "independent"}}
}
